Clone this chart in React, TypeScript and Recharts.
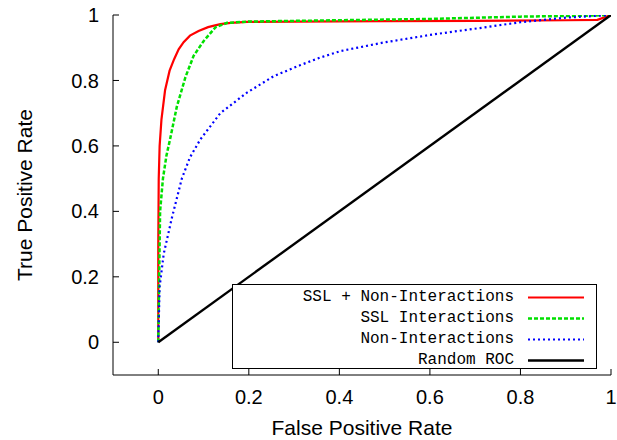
import React from 'react';
import { LineChart, Line, XAxis, YAxis, Legend, Label } from 'recharts';

// ---- data ----
const X_TICKS = [0, 0.2, 0.4, 0.6, 0.8, 1];
const X_TICK_LABELS = ['0', '0.2', '0.4', '0.6', '0.8', '1'];
const Y_TICKS = [0, 0.2, 0.4, 0.6, 0.8, 1];
const Y_TICK_LABELS = ['0', '0.2', '0.4', '0.6', '0.8', '1'];

const SERIES_NAMES = ['SSL + Non-Interactions', 'SSL Interactions', 'Non-Interactions', 'Random ROC'];

const sslNonFpr = [0, 0, 0.001, 0.003, 0.007, 0.015, 0.025, 0.035, 0.045, 0.056, 0.07, 0.089, 0.11, 0.137, 0.16, 0.196, 0.3, 0.5, 0.7, 0.9, 0.97, 1];
const sslNonTpr = [0, 0.3, 0.5, 0.6, 0.68, 0.77, 0.83, 0.865, 0.895, 0.917, 0.937, 0.951, 0.963, 0.972, 0.976, 0.979, 0.98, 0.981, 0.982, 0.984, 0.985, 1];

const sslIntFpr = [0, 0.002, 0.004, 0.0103, 0.018, 0.026, 0.041, 0.06, 0.078, 0.1, 0.126, 0.152, 0.2, 0.4, 0.6, 0.8, 0.95, 1];
const sslIntTpr = [0, 0.2, 0.4, 0.5, 0.57, 0.62, 0.72, 0.81, 0.875, 0.92, 0.962, 0.976, 0.98, 0.984, 0.988, 0.995, 0.998, 1];

const nonIntFpr = [0, 0.003, 0.012, 0.03, 0.052, 0.07, 0.093, 0.137, 0.196, 0.255, 0.314, 0.358, 0.403, 0.498, 0.609, 0.72, 0.8, 0.9, 1];
const nonIntTpr = [0, 0.17, 0.27, 0.38, 0.5, 0.565, 0.62, 0.7, 0.763, 0.813, 0.847, 0.87, 0.89, 0.916, 0.941, 0.962, 0.978, 0.992, 1];

const randomFpr = [0, 1];
const randomTpr = [0, 1];

const zip = (xs: number[], ys: number[]) => xs.map((x, i) => ({ x, y: ys[i] }));

const series = [
  { name: SERIES_NAMES[0], data: zip(sslNonFpr, sslNonTpr), color: '#ff0000', width: 2.2, dash: undefined as string | undefined },
  { name: SERIES_NAMES[1], data: zip(sslIntFpr, sslIntTpr), color: '#00e000', width: 2.5, dash: '4 2' },
  { name: SERIES_NAMES[2], data: zip(nonIntFpr, nonIntTpr), color: '#0000ff', width: 2.2, dash: '2 3' },
  { name: SERIES_NAMES[3], data: zip(randomFpr, randomTpr), color: '#000000', width: 2.4, dash: undefined as string | undefined },
];

const SANS = '"Liberation Sans", Arial, Helvetica, sans-serif';
const MONO = '"Liberation Mono", "Courier New", monospace';

const LegendBox = () => (
  <div
    style={{
      width: 365,
      height: 85,
      boxSizing: 'border-box',
      border: '1px solid #000',
      background: '#fff',
      paddingTop: 2,
    }}
  >
    {series.map((s) => (
      <div key={s.name} style={{ display: 'flex', alignItems: 'center', height: 21 }}>
        <span
          style={{
            width: 281,
            textAlign: 'right',
            fontFamily: MONO,
            fontSize: 16,
            color: '#000',
            whiteSpace: 'pre',
            lineHeight: '21px',
          }}
        >
          {s.name}
        </span>
        <svg width={70} height={21} style={{ display: 'block' }}>
          <line x1={14} x2={70} y1={10.5} y2={10.5} stroke={s.color} strokeWidth={s.width} strokeDasharray={s.dash} />
        </svg>
      </div>
    ))}
  </div>
);

const XTitle = (props: any) => {
  const vb = props.viewBox || {};
  return (
    <text x={vb.x + vb.width / 2} y={vb.y + vb.height - 5} textAnchor="middle" fontFamily={SANS} fontSize={21} fill="#000">
      False Positive Rate
    </text>
  );
};

const YTitle = (props: any) => {
  const vb = props.viewBox || {};
  const cx = 32;
  const cy = vb.y + vb.height / 2;
  return (
    <text x={cx} y={cy} textAnchor="middle" fontFamily={SANS} fontSize={21} fill="#000" transform={`rotate(-90, ${cx}, ${cy})`}>
      True Positive Rate
    </text>
  );
};

export default function App() {
  return (
    <div style={{ position: 'absolute', left: 0, top: 0, background: '#fff' }}>
      <LineChart width={617} height={440} margin={{ top: 15, right: 6, left: 0, bottom: 0 }}>
        <XAxis
          xAxisId={0}
          type="number"
          dataKey="x"
          domain={[-0.1, 1]}
          ticks={X_TICKS}
          allowDataOverflow
          height={65}
          tickSize={-6}
          tickMargin={21}
          tickFormatter={(v: number) => X_TICK_LABELS[X_TICKS.indexOf(v)] ?? String(v)}
          stroke="#000"
          tick={{ fill: '#000', fontFamily: SANS, fontSize: 20 }}
        >
          <Label content={<XTitle />} />
        </XAxis>
        <XAxis
          xAxisId="top"
          orientation="top"
          type="number"
          dataKey="x"
          domain={[-0.1, 1]}
          ticks={X_TICKS}
          allowDataOverflow
          height={0}
          tickSize={-6}
          tick={false}
          stroke="#000"
        />
        <YAxis
          yAxisId={0}
          type="number"
          domain={[-0.1, 1]}
          ticks={Y_TICKS}
          allowDataOverflow
          width={113}
          tickSize={-6}
          tickMargin={20}
          tickFormatter={(v: number) => Y_TICK_LABELS[Y_TICKS.indexOf(v)] ?? String(v)}
          stroke="#000"
          tick={{ fill: '#000', fontFamily: SANS, fontSize: 20 }}
        >
          <Label content={<YTitle />} />
        </YAxis>
        <YAxis
          yAxisId="right"
          orientation="right"
          type="number"
          domain={[-0.1, 1]}
          ticks={Y_TICKS}
          allowDataOverflow
          width={0}
          tickSize={-6}
          tick={false}
          stroke="#000"
        />
        {series.map((s) => (
          <Line
            key={s.name}
            xAxisId={0}
            yAxisId={0}
            data={s.data}
            dataKey="y"
            name={s.name}
            type="linear"
            stroke={s.color}
            strokeWidth={s.width}
            strokeDasharray={s.dash}
            dot={false}
            activeDot={false}
            isAnimationActive={false}
          />
        ))}
        <Legend
          layout="horizontal"
          align="center"
          verticalAlign="middle"
          content={<LegendBox />}
          wrapperStyle={{ position: 'absolute', left: 232, top: 284, width: 365, height: 85 }}
        />
      </LineChart>
    </div>
  );
}
